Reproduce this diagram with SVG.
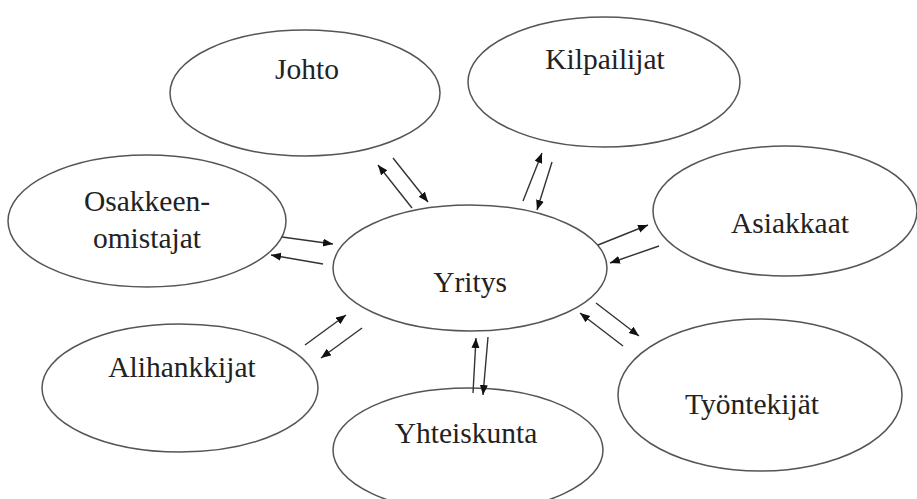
<svg xmlns="http://www.w3.org/2000/svg" width="917" height="499" viewBox="0 0 917 499">
<style>
.n ellipse{fill:#fff;stroke:#555;stroke-width:1.5}
.n text{font-family:'Liberation Serif','Times New Roman',serif;font-size:29.5px;fill:#222;text-anchor:middle}
.c line{stroke:#333;stroke-width:1.4;marker-end:url(#ah)}
</style>
<defs>
<marker id="ah" markerUnits="userSpaceOnUse" markerWidth="12" markerHeight="10" refX="10" refY="4" orient="auto">
<path d="M0,0 L10,4 L0,8 z" fill="#111"/>
</marker>
</defs>
<rect width="917" height="499" fill="#fff"/>
<g id="johto" class="n"><ellipse cx="305" cy="93" rx="135" ry="63"/><text x="307" y="79">Johto</text></g>
<g id="kilpailijat" class="n"><ellipse cx="604" cy="82" rx="136" ry="65"/><text x="605" y="69">Kilpailijat</text></g>
<g id="osakkeenomistajat" class="n"><ellipse cx="147" cy="221" rx="139" ry="66"/><text x="147" y="211">Osakkeen-</text><text x="147" y="248">omistajat</text></g>
<g id="asiakkaat" class="n"><ellipse cx="785" cy="211" rx="132" ry="65"/><text x="790" y="233">Asiakkaat</text></g>
<g id="yritys" class="n"><ellipse cx="470" cy="268" rx="137" ry="63"/><text x="470" y="292">Yritys</text></g>
<g id="alihankkijat" class="n"><ellipse cx="180" cy="388" rx="138" ry="64"/><text x="182" y="377">Alihankkijat</text></g>
<g id="tyontekijat" class="n"><ellipse cx="760" cy="395" rx="142" ry="76"/><text x="752" y="414">Työntekijät</text></g>
<g id="yhteiskunta" class="n"><ellipse cx="468" cy="450" rx="135" ry="62"/><text x="466" y="443">Yhteiskunta</text></g>
<g id="connectors" class="c">
<line x1="412" y1="208" x2="378" y2="165"/>
<line x1="393" y1="158" x2="428" y2="202"/>
<line x1="523" y1="201" x2="542" y2="153"/>
<line x1="552" y1="162" x2="537" y2="210"/>
<line x1="282" y1="237" x2="333" y2="244"/>
<line x1="323" y1="264" x2="271" y2="255"/>
<line x1="598" y1="245" x2="648" y2="225"/>
<line x1="659" y1="246" x2="610" y2="263"/>
<line x1="305" y1="345" x2="346" y2="315"/>
<line x1="362" y1="328" x2="321" y2="358"/>
<line x1="473" y1="393" x2="476" y2="338"/>
<line x1="488" y1="337" x2="483" y2="395"/>
<line x1="596" y1="303" x2="639" y2="336"/>
<line x1="623" y1="346" x2="580" y2="313"/>
</g>
</svg>
